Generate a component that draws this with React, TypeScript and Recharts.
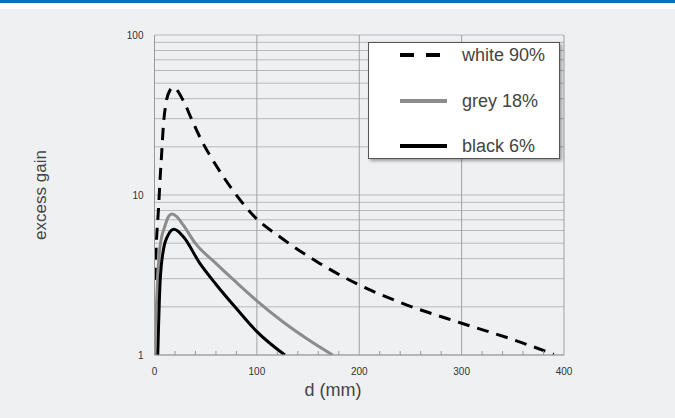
import { LineChart, Line, XAxis, YAxis, CartesianGrid, ReferenceLine, Legend } from "recharts";

const FONT = '"Liberation Sans", Arial, sans-serif';

// white 90% (dashed)
const whiteX = [0.5, 1.5, 4, 5.4, 7, 8.6, 11.2, 15, 18.5, 28, 36, 44, 61, 77, 90, 100, 122, 161, 200, 246, 300, 350, 390];
const whiteY = [2.95, 4.5, 8.4, 12.4, 18.2, 26.8, 37.5, 45, 47, 39, 30, 23.2, 15, 10.6, 8.3, 7.08, 5.5, 3.75, 2.74, 2.06, 1.58, 1.25, 1.01];

// grey 18%
const greyX = [0, 1, 2.1, 3.7, 5.4, 10.2, 13.5, 16.8, 22, 28, 40, 60, 80, 100, 125, 150, 174];
const greyY = [1, 1.6, 2.2, 3.57, 4.75, 6.4, 7.3, 7.6, 7.3, 6.5, 4.98, 3.74, 2.84, 2.18, 1.62, 1.25, 1.0];

// black 6%
const blackX = [3.2, 5.4, 8.6, 13.5, 19, 28, 44, 60, 80, 100, 127.3];
const blackY = [1, 2.8, 4.5, 5.65, 6.1, 5.5, 3.77, 2.77, 1.95, 1.4, 1.0];

const xTicks = [0, 20, 40, 60, 80, 100, 120, 140, 160, 180, 200, 220, 240, 260, 280, 300, 320, 340, 360, 380, 400];
const xMajor = [100, 200, 300, 400];
const yTicks = [1, 2, 3, 4, 5, 6, 7, 8, 9, 10, 20, 30, 40, 50, 60, 70, 80, 90, 100];
const yLabels = [1, 10, 100];

const series = [
  { name: "white 90%", color: "#000", width: 3, dash: "12 8", legendDash: "14 12" },
  { name: "grey 18%", color: "#8c8c8c", width: 3, dash: undefined, legendDash: undefined },
  { name: "black 6%", color: "#000", width: 3, dash: undefined, legendDash: undefined },
];

const toRows = (xs: number[], ys: number[]) => xs.map((x, i) => ({ x, y: ys[i] }));
const whiteData = toRows(whiteX, whiteY);
const greyData = toRows(greyX, greyY);
const blackData = toRows(blackX, blackY);

function XTick(props: any) {
  const { x, y, payload } = props;
  const v = payload.value;
  const major = v % 100 === 0;
  return (
    <g>
      {!major && <line x1={x} x2={x} y1={y} y2={y - 4} stroke="#999" />}
      {major && (
        <text x={x} y={y + 20} textAnchor="middle" fontSize={10} fill="#333" fontFamily={FONT}>
          {v}
        </text>
      )}
    </g>
  );
}

function ChartLegend() {
  const rowTops = [12, 58, 103];
  return (
    <div
      style={{
        position: "relative",
        width: 192,
        height: 117,
        background: "#fff",
        border: "1px solid #555",
        boxSizing: "border-box",
        boxShadow: "2px 2px 3px rgba(0,0,0,0.35)",
        fontFamily: FONT,
      }}
    >
      {series.map((s, i) => (
        <div key={s.name} style={{ position: "absolute", left: 0, top: rowTops[i] - 12, height: 24, width: 192 }}>
          <svg width={80} height={24} style={{ position: "absolute", left: 0, top: 0 }}>
            <line
              x1={31}
              x2={78}
              y1={12}
              y2={12}
              stroke={s.color}
              strokeWidth={4}
              strokeDasharray={s.legendDash}
            />
          </svg>
          <span
            style={{
              position: "absolute",
              left: 93,
              top: 0,
              lineHeight: "24px",
              fontSize: 18,
              color: "#444",
              whiteSpace: "nowrap",
            }}
          >
            {s.name}
          </span>
        </div>
      ))}
    </div>
  );
}

export default function App() {
  return (
    <div
      style={{
        position: "fixed",
        left: 0,
        top: 0,
        width: 675,
        height: 418,
        background: "#eff0f2",
        overflow: "hidden",
      }}
    >
      <div style={{ position: "absolute", left: 0, top: 0, width: 675, height: 9, background: "#fff" }} />
      <div style={{ position: "absolute", left: 0, top: 0, width: 675, height: 3, background: "#0a70b6" }} />
      <div style={{ position: "absolute", left: 0, top: 0 }}>
        <LineChart width={675} height={418} margin={{ top: 35, right: 111, bottom: 0, left: 0 }}>
          <CartesianGrid horizontal vertical={false} stroke="#b8b8b8" strokeWidth={1} />
          <XAxis
            dataKey="x"
            type="number"
            domain={[0, 400]}
            ticks={xTicks}
            interval={0}
            height={63}
            stroke="#999"
            tickLine={false}
            tickSize={0}
            tickMargin={0}
            tick={<XTick />}
            allowDataOverflow
            label={{
              content: () => (
                <text x={333} y={390} textAnchor="middle" dominantBaseline="central" fontSize={18} fill="#444" fontFamily={FONT}>
                  d (mm)
                </text>
              ),
            }}
          />
          <YAxis
            dataKey="y"
            scale="log"
            domain={[1, 100]}
            ticks={yTicks}
            interval={0}
            width={154.5}
            stroke="#999"
            tickLine={false}
            tickMargin={5}
            allowDataOverflow
            tick={{ fontSize: 10, fill: "#333", fontFamily: FONT }}
            tickFormatter={(v: number) => (yLabels.includes(v) ? String(v) : "")}
            label={{
              content: () => (
                <text
                  x={40}
                  y={195}
                  transform="rotate(-90 40 195)"
                  textAnchor="middle"
                  dominantBaseline="central"
                  fontSize={17}
                  fill="#444"
                  fontFamily={FONT}
                >
                  excess gain
                </text>
              ),
            }}
          />
          {xMajor.map((v) => (
            <ReferenceLine key={v} x={v} stroke="#a0a0a0" strokeWidth={1} />
          ))}
          <Line
            data={whiteData}
            dataKey="y"
            name={series[0].name}
            type="monotone"
            stroke={series[0].color}
            strokeWidth={series[0].width}
            strokeDasharray={series[0].dash}
            dot={false}
            isAnimationActive={false}
          />
          <Line
            data={greyData}
            dataKey="y"
            name={series[1].name}
            type="monotone"
            stroke={series[1].color}
            strokeWidth={series[1].width}
            dot={false}
            isAnimationActive={false}
          />
          <Line
            data={blackData}
            dataKey="y"
            name={series[2].name}
            type="monotone"
            stroke={series[2].color}
            strokeWidth={series[2].width}
            dot={false}
            isAnimationActive={false}
          />
          <Legend
            layout="vertical"
            align="center"
            verticalAlign="middle"
            content={() => <ChartLegend />}
            wrapperStyle={{ position: "absolute", left: 368, top: 42, width: 192, height: 117 }}
          />
        </LineChart>
      </div>
    </div>
  );
}
